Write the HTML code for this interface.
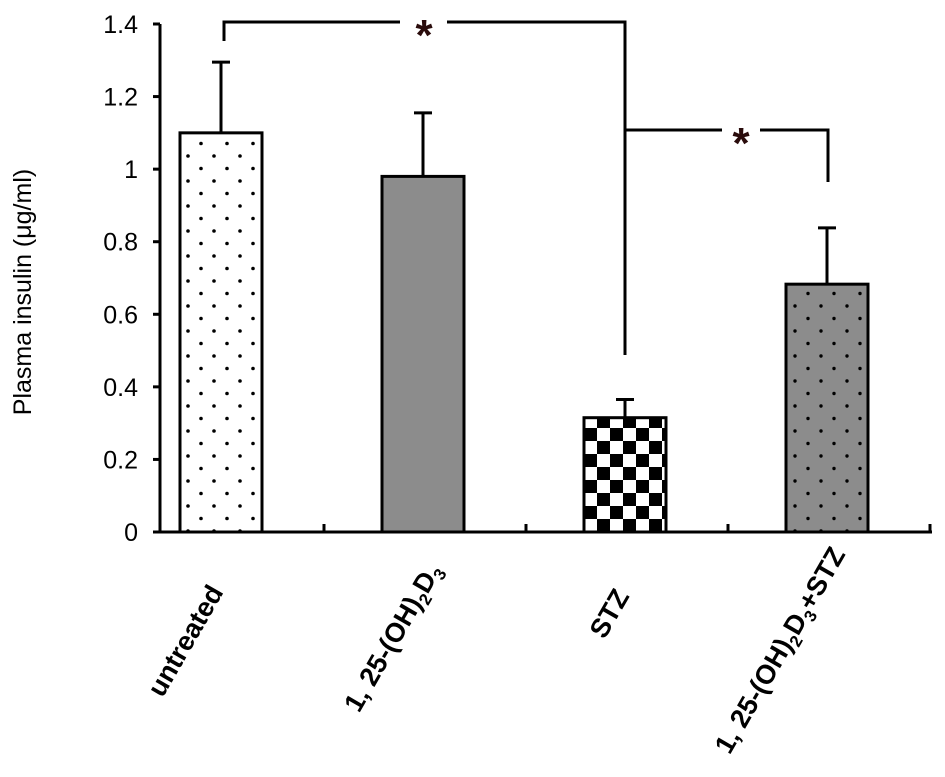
<!DOCTYPE html>
<html><head><meta charset="utf-8"><style>
html,body{margin:0;padding:0;background:#fff;}
svg{display:block;font-family:"Liberation Sans",Arial,sans-serif;}
</style></head><body>
<svg id="chart" width="945" height="777" viewBox="0 0 945 777">
<defs>
<pattern id="dotsW" width="26" height="25" patternUnits="userSpaceOnUse" x="180" y="0">
<rect width="26" height="25" fill="#fff"/><circle cx="8" cy="6" r="1.8" fill="#000"/><circle cx="21" cy="18.5" r="1.8" fill="#000"/></pattern>
<pattern id="dotsG" width="26" height="25" patternUnits="userSpaceOnUse" x="786" y="0">
<rect width="26" height="25" fill="#8c8c8c"/><circle cx="9" cy="6" r="1.7" fill="#000"/><circle cx="22" cy="18.5" r="1.7" fill="#000"/></pattern>
<pattern id="checker" width="26" height="26" patternUnits="userSpaceOnUse" x="584" y="532">
<rect width="26" height="26" fill="#fff"/><rect width="13" height="13" fill="#000"/><rect x="13" y="13" width="13" height="13" fill="#000"/></pattern>
</defs>
<g id="plot"></g>
<text x="0" y="0" transform="translate(31,292) rotate(-90)" text-anchor="middle" font-size="25">Plasma insulin (μg/ml)</text>
</svg>
<script>
const categories = ["untreated","1, 25-(OH)2D3","STZ","1, 25-(OH)2D3+STZ"];
const means = [1.10, 0.98, 0.315, 0.683];
const errors = [0.195, 0.175, 0.05, 0.155];
const yTicks = [0, 0.2, 0.4, 0.6, 0.8, 1, 1.2, 1.4];
const yTickLabels = ["0","0.2","0.4","0.6","0.8","1","1.2","1.4"];
const fills = ["url(#dotsW)","#8c8c8c","url(#checker)","url(#dotsG)"];

const NS="http://www.w3.org/2000/svg";
const g=document.getElementById('plot');
const y0=532, y1=24, xL=160, xR=932;
function yScale(v){return y0-(v/1.4)*(y0-y1);}
const slot=202;
function xCenter(i){return 221+slot*i;}
const barW=82;
function mk(tag,attrs){const e=document.createElementNS(NS,tag);for(const k in attrs)e.setAttribute(k,attrs[k]);g.appendChild(e);return e;}

categories.forEach((c,i)=>{
  const cx=xCenter(i), top=yScale(means[i]), et=yScale(means[i]+errors[i]);
  const eb=mk('line',{x1:cx,x2:cx,y1:top,y2:et,stroke:'#000','stroke-width':3});
  
  
  const cap=mk('line',{x1:cx-9,x2:cx+9,y1:et,y2:et,stroke:'#000','stroke-width':3});
  
  
  const r=mk('rect',{x:cx-barW/2,y:top,width:barW,height:y0-top,fill:fills[i],stroke:'#000','stroke-width':3});
  
  
});

const ya=mk('line',{x1:xL,x2:xL,y1:y1,y2:y0,stroke:'#000','stroke-width':3});


const xa=mk('line',{x1:xL-1,x2:xR,y1:y0,y2:y0,stroke:'#000','stroke-width':3});


yTicks.forEach((v,i)=>{
  const yy=yScale(v);
  const t=mk('line',{x1:xL-7,x2:xL,y1:yy,y2:yy,stroke:'#000','stroke-width':3});
  
  
  const l=mk('text',{x:xL-22,y:yy+9,'text-anchor':'end','font-size':25});
  l.textContent=yTickLabels[i];
  
  
});
for(let i=0;i<4;i++){
  const xx=Math.min(xCenter(i)+slot/2+2,xR-2);
  const t=mk('line',{x1:xx,x2:xx,y1:y0-8,y2:y0,stroke:'#000','stroke-width':3});
  
  
}
const labelAnchors=[[224,592],[442,570],[630,596],[846,554]];
const sub='font-size="17" dy="6"';
const labelHTML=['untreated','1, 25-(OH)<tspan '+sub+'>2</tspan><tspan dy="-6">D</tspan><tspan '+sub+'>3</tspan>','STZ','1, 25-(OH)<tspan '+sub+'>2</tspan><tspan dy="-6">D</tspan><tspan '+sub+'>3</tspan><tspan dy="-6">+STZ</tspan>'];
categories.forEach((c,i)=>{
  const [ax,ay]=labelAnchors[i];
  const t=mk('text',{x:0,y:0,transform:`translate(${ax},${ay}) rotate(-60)`,'text-anchor':'end','font-size':27,'font-weight':'bold'});
  t.innerHTML=labelHTML[i];
  
  
});
const b1=mk('polyline',{points:`${xCenter(0)+3},41 ${xCenter(0)+3},22 400,22`,fill:'none',stroke:'#000','stroke-width':3});


const b1b=mk('polyline',{points:`447,22 ${xCenter(2)},22 ${xCenter(2)},355`,fill:'none',stroke:'#000','stroke-width':3});


const b2=mk('line',{x1:xCenter(2),x2:722,y1:130,y2:130,stroke:'#000','stroke-width':3});


const b2b=mk('polyline',{points:`760,130 ${xCenter(3)+1},130 ${xCenter(3)+1},182`,fill:'none',stroke:'#000','stroke-width':3});


[[424,50],[741,158]].forEach((p,i)=>{
  const s=mk('text',{x:p[0],y:p[1],'text-anchor':'middle','font-size':44,'font-weight':'bold',fill:'#2a0c0c'});
  s.textContent='*';
  
  
});
</script>
</body></html>
